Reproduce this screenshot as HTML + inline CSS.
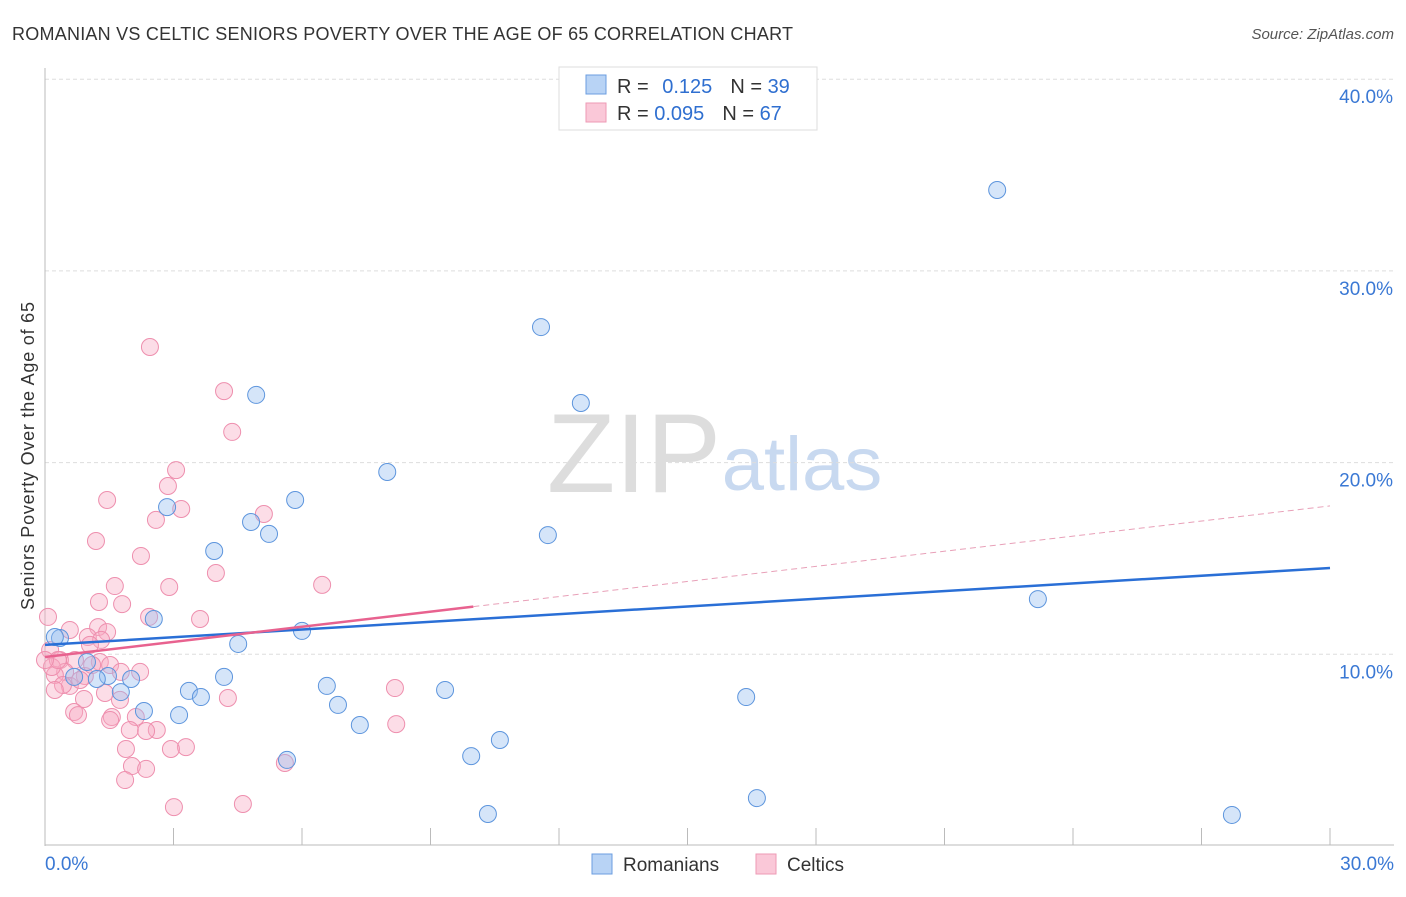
<!DOCTYPE html>
<html><head><meta charset="utf-8"><style>
body{margin:0;background:#fff;font-family:"Liberation Sans",sans-serif}
svg text{font-family:"Liberation Sans",sans-serif}
</style></head><body>
<svg id="c" width="1406" height="892">
<text x="12" y="40" font-size="18" textLength="781" fill="#333">ROMANIAN VS CELTIC SENIORS POVERTY OVER THE AGE OF 65 CORRELATION CHART</text>
<text x="1394" y="39" font-size="15" fill="#555" font-style="italic" text-anchor="end">Source: ZipAtlas.com</text>
<text transform="translate(34,456) rotate(-90)" font-size="18" textLength="308" fill="#333" text-anchor="middle">Seniors Poverty Over the Age of 65</text>
<text x="634" y="492" font-size="112" fill="#ddd" font-family="Liberation Serif" text-anchor="middle">ZIP</text>
<text x="802" y="490" font-size="76" fill="#c8d9f0" text-anchor="middle">atlas</text>
<g id="grid"></g><g id="pts"></g><g id="lines"></g>
<g>
<rect x="559" y="67" width="258" height="63" fill="#fff" stroke="#ddd"/>
<rect x="586" y="75" width="20" height="19" fill="#b8d3f5" stroke="#6b9ee0"/>
<rect x="586" y="103" width="20" height="19" fill="#fac8d8" stroke="#ee9ab5"/>
<text x="617" y="93" font-size="20" fill="#333">R = <tspan fill="#2f6fd0" dx="8">0.125</tspan><tspan dx="18" fill="#333">N = </tspan><tspan fill="#2f6fd0">39</tspan></text>
<text x="617" y="120" font-size="20" fill="#333">R = <tspan fill="#2f6fd0">0.095</tspan><tspan dx="18" fill="#333">N = </tspan><tspan fill="#2f6fd0">67</tspan></text>
</g>
<g>
<rect x="592" y="854" width="20" height="20" fill="#b8d3f5" stroke="#6b9ee0"/>
<text x="623" y="871" font-size="19" fill="#333">Romanians</text>
<rect x="756" y="854" width="20" height="20" fill="#fac8d8" stroke="#ee9ab5"/>
<text x="787" y="871" font-size="19" fill="#333">Celtics</text>
</g>
</svg>
<script>
const yTicks=[10,20,30,40];
const yTickLabels=["10.0%","20.0%","30.0%","40.0%"];
const xTickLabels=["0.0%","30.0%"];
const blueX=[22.23,11.58,12.51,4.93,7.99,5.84,4.81,5.23,11.74,3.95,2.85,23.18,2.54,6.0,4.51,0.35,0.23,0.98,1.47,1.21,2.01,4.18,1.77,3.36,3.64,6.58,9.34,16.37,6.84,2.31,3.13,7.35,10.62,9.95,5.65,16.62,10.34,27.71,0.68];
const blueY=[34.22,27.07,23.11,23.53,19.51,18.05,16.90,16.28,16.22,15.39,17.68,12.88,11.84,11.22,10.54,10.85,10.90,9.60,8.87,8.71,8.71,8.82,8.03,8.09,7.77,8.35,8.14,7.77,7.36,7.04,6.83,6.31,5.53,4.69,4.49,2.50,1.67,1.62,8.82];
const pinkX=[2.45,4.18,4.37,3.06,2.87,1.45,3.18,2.59,5.11,1.19,2.24,3.99,1.63,2.90,6.47,1.26,1.80,2.43,3.62,0.07,1.24,1.45,1.00,1.31,1.05,0.12,0.35,0.70,1.28,1.52,2.22,0.47,0.23,0.93,0.16,0.58,0.42,8.17,0.91,4.27,1.75,0.68,0.77,1.56,2.12,8.20,1.98,2.61,2.36,1.89,3.29,2.94,2.03,2.36,1.87,5.60,3.01,4.62,1.77,1.52,0.23,0.82,0.30,1.10,0.0,0.58,1.40];
const pinkY=[26.03,23.73,21.60,19.61,18.78,18.05,17.58,17.01,17.32,15.91,15.13,14.24,13.56,13.51,13.62,12.73,12.62,11.95,11.84,11.95,11.42,11.16,10.90,10.75,10.49,10.22,9.70,9.70,9.60,9.44,9.08,9.08,8.92,8.87,9.34,8.35,8.40,8.24,7.67,7.72,7.62,6.99,6.83,6.73,6.73,6.36,6.05,6.05,6.00,5.06,5.16,5.06,4.17,4.02,3.44,4.33,2.03,2.19,9.08,6.57,8.14,8.66,9.70,9.44,9.70,11.27,7.98];
const blueLine=[10.49,14.5];
const pinkLine=[9.86,17.74];
const pinkSolidEnd=10;
const NS="http://www.w3.org/2000/svg";
const X=v=>45+v*1285/30, Y=v=>846-v*19.17;
function mk(tag,attrs,parent){const e=document.createElementNS(NS,tag);for(const k in attrs)e.setAttribute(k,attrs[k]);document.getElementById(parent).appendChild(e);return e;}
yTicks.forEach((t,i)=>{
  const g=mk('line',{x1:45,x2:1394,y1:Y(t),y2:Y(t),stroke:'#ddd','stroke-dasharray':'4,3'},'grid');
  
  
  const l=mk('text',{x:1393,y:Y(t)+24,'font-size':19,fill:'#3a78d4','text-anchor':'end'},'grid');
  l.textContent=yTickLabels[i];
  
  
});
mk('line',{x1:45,x2:45,y1:68,y2:846,stroke:'#bbb'},'grid');
mk('line',{x1:45,x2:1394,y1:845,y2:845,stroke:'#bbb'},'grid');
for(let i=1;i<=10;i++){mk('line',{x1:X(i*3),x2:X(i*3),y1:828,y2:845,stroke:'#bbb'},'grid');}
[[0,'start',45],[30,'end',1394]].forEach((d,i)=>{const t=mk('text',{x:d[2],y:870,'font-size':19,fill:'#3a78d4','text-anchor':d[1]},'grid');t.textContent=xTickLabels[i];
  
  });
pinkX.forEach((x,i)=>{const c=mk('circle',{cx:X(x),cy:Y(pinkY[i]),r:8.5,fill:'rgba(247,170,195,0.4)',stroke:'#ee8fae','stroke-width':1},'pts');
  
  });
blueX.forEach((x,i)=>{const c=mk('circle',{cx:X(x),cy:Y(blueY[i]),r:8.5,fill:'rgba(150,190,240,0.4)',stroke:'#5d95dd','stroke-width':1},'pts');
  
  });
const bl=mk('line',{x1:X(0),y1:Y(blueLine[0]),x2:X(30),y2:Y(blueLine[1]),stroke:'#2a6fd6','stroke-width':2.5},'lines');


const pm=pinkLine[0]+(pinkLine[1]-pinkLine[0])*pinkSolidEnd/30;
const pl=mk('line',{x1:X(0),y1:Y(pinkLine[0]),x2:X(pinkSolidEnd),y2:Y(pm),stroke:'#e8628f','stroke-width':2.5},'lines');


const pd=mk('line',{x1:X(pinkSolidEnd),y1:Y(pm),x2:X(30),y2:Y(pinkLine[1]),stroke:'#e8a0b8','stroke-width':1,'stroke-dasharray':'6,4'},'lines');


</script>
</body></html>
